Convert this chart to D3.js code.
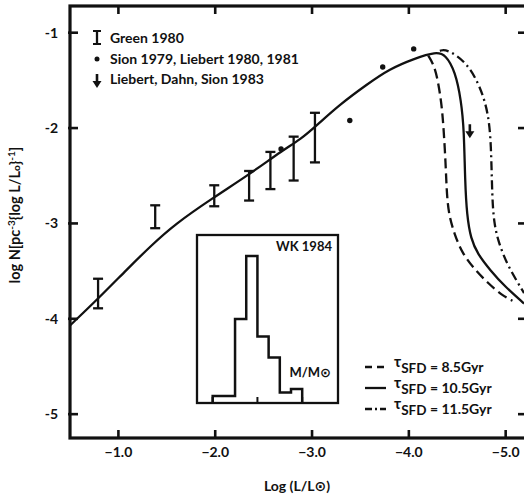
<!DOCTYPE html>
<html lang="en">
<head>
<meta charset="utf-8">
<script src="https://cdn.jsdelivr.net/npm/d3@7"></script>
<style>
  body { margin: 0; background: #fff; }
  text { font-family: Lato, "DejaVu Sans", sans-serif; font-weight: 700; fill: #111; }
</style>
</head>
<body>
<svg id="chart" width="524" height="495"></svg>
<script>
// ---- data ----
// Green 1980 (error bars)
const greenX  = [-0.79, -1.38, -1.99, -2.35, -2.57, -2.81, -3.03];
const greenLo = [-3.89, -3.05, -2.82, -2.76, -2.64, -2.55, -2.36];
const greenHi = [-3.58, -2.81, -2.60, -2.45, -2.25, -2.09, -1.84];
// Sion 1979, Liebert 1980, 1981
const sionX = [-2.68, -3.39, -3.73, -4.05];
const sionY = [-2.22, -1.92, -1.36, -1.17];
// Liebert, Dahn, Sion 1983 (upper limit)
const ldsX = [-4.63];
const ldsY = [-1.96];

// model luminosity functions
const solidX = [-0.50, -0.79, -1.09, -1.33, -1.58, -1.98, -2.36, -2.70, -2.88, -3.05, -3.29, -3.57, -3.80, -4.06, -4.28,
                -4.38, -4.48, -4.54, -4.57, -4.58, -4.60, -4.64, -4.71, -4.84, -4.99, -5.19];
const solidY = [-4.07, -3.79, -3.48, -3.24, -3.01, -2.73, -2.48, -2.23, -2.12, -1.97, -1.75, -1.54, -1.38, -1.27, -1.20,
                -1.23, -1.41, -1.71, -2.02, -2.55, -2.92, -3.16, -3.32, -3.49, -3.66, -3.84];
const dashX = [-4.20, -4.26, -4.30, -4.34, -4.36, -4.38, -4.39, -4.41, -4.47, -4.55, -4.67, -4.82, -4.97, -5.07];
const dashY = [-1.24, -1.34, -1.50, -1.76, -2.02, -2.37, -2.65, -2.90, -3.11, -3.31, -3.47, -3.63, -3.76, -3.81];
const dotdashX = [-4.32, -4.39, -4.60, -4.74, -4.82, -4.85, -4.86, -4.88, -4.92, -5.01, -5.13, -5.19];
const dotdashY = [-1.19, -1.17, -1.31, -1.57, -1.84, -2.16, -2.73, -2.99, -3.18, -3.42, -3.63, -3.73];

const models = [
  {label: "8.5Gyr",  dash: "10,5",    key: "7,5"},
  {label: "10.5Gyr", dash: null,      key: null},
  {label: "11.5Gyr", dash: "9,4,2,4", key: "7,3,2,3"}
];

// WK 1984 mass distribution (inset)
const massEdges  = [0.40, 0.45, 0.50, 0.55, 0.60, 0.65, 0.70, 0.75, 0.80];
const massCounts = [1, 1, 12, 21, 9.5, 6.5, 1.5, 2];
const massTicks  = [0.4, 0.6, 0.8];

const xTicks = [-1, -2, -3, -4, -5];
const yTicks = [-1, -2, -3, -4, -5];

// ---- layout ----
const svg = d3.select("#chart");
const L = 70, R = 526, T = 6, B = 438;

const x = d3.scaleLinear().domain([-0.5, -5.21]).range([L, R]);
const y = d3.scaleLinear().domain([-0.72, -5.25]).range([T, B]);

svg.append("clipPath").attr("id", "plotclip")
   .append("rect").attr("x", L).attr("y", T).attr("width", R - L).attr("height", B - T);

// frame
svg.append("rect").attr("x", L).attr("y", T).attr("width", R - L).attr("height", B - T)
   .attr("fill", "none").attr("stroke", "#111").attr("stroke-width", 3.2);

// ticks (all inward)
const tk = 8;
xTicks.forEach(v => {
  svg.append("line").attr("x1", x(v)).attr("x2", x(v)).attr("y1", B).attr("y2", B - tk)
     .attr("stroke", "#111").attr("stroke-width", 2.6);
  svg.append("line").attr("x1", x(v)).attr("x2", x(v)).attr("y1", T).attr("y2", T + tk)
     .attr("stroke", "#111").attr("stroke-width", 2.6);
  svg.append("text").attr("x", x(v)).attr("y", B + 19).attr("text-anchor", "middle")
     .attr("font-size", 14).text(d3.format(".1f")(v));
});
yTicks.forEach(v => {
  svg.append("line").attr("x1", L - 2).attr("x2", L + tk).attr("y1", y(v)).attr("y2", y(v))
     .attr("stroke", "#111").attr("stroke-width", 2.6);
  svg.append("line").attr("x1", R).attr("x2", R - tk).attr("y1", y(v)).attr("y2", y(v))
     .attr("stroke", "#111").attr("stroke-width", 2.6);
  svg.append("text").attr("x", L - 12).attr("y", y(v) + 5).attr("text-anchor", "end")
     .attr("font-size", 14).text(v);
});

// axis titles
svg.append("text").attr("x", 297).attr("y", 491).attr("text-anchor", "middle")
   .attr("font-size", 14).text("Log (L/L\u2299)");

const yt = svg.append("text").attr("transform", "translate(20,215) rotate(-90)")
   .attr("text-anchor", "middle").attr("font-size", 14.5);
yt.append("tspan").text("log N[pc");
yt.append("tspan").attr("dy", -5).attr("font-size", 10).text("-3");
yt.append("tspan").attr("dy", 5).text("{log L/L");
yt.append("tspan").attr("font-size", 10).text("o");
yt.append("tspan").text("}");
yt.append("tspan").attr("dy", -5).attr("font-size", 10).text("-1");
yt.append("tspan").attr("dy", 5).text("]");

// ---- curves ----
const line = d3.line().x(d => x(d[0])).y(d => y(d[1])).curve(d3.curveBasis);
const plot = svg.append("g").attr("clip-path", "url(#plotclip)");
const curveData = [d3.zip(dashX, dashY), d3.zip(solidX, solidY), d3.zip(dotdashX, dotdashY)];
curveData.forEach((pts, i) => {
  plot.append("path").attr("d", line(pts)).attr("fill", "none")
      .attr("stroke", "#111").attr("stroke-width", 2.3)
      .attr("stroke-dasharray", models[i].dash);
});

// error bars
const cap = 5;
greenX.forEach((v, i) => {
  const g = plot.append("g").attr("stroke", "#111").attr("stroke-width", 2.3);
  g.append("line").attr("x1", x(v)).attr("x2", x(v)).attr("y1", y(greenLo[i])).attr("y2", y(greenHi[i]));
  g.append("line").attr("x1", x(v) - cap).attr("x2", x(v) + cap).attr("y1", y(greenLo[i])).attr("y2", y(greenLo[i]));
  g.append("line").attr("x1", x(v) - cap).attr("x2", x(v) + cap).attr("y1", y(greenHi[i])).attr("y2", y(greenHi[i]));
});

// points
sionX.forEach((v, i) => {
  plot.append("circle").attr("cx", x(v)).attr("cy", y(sionY[i])).attr("r", 2.7).attr("fill", "#111");
});

function arrowDown(sel, cx, cy) {
  sel.append("line").attr("x1", cx).attr("x2", cx).attr("y1", cy).attr("y2", cy + 9)
     .attr("stroke", "#111").attr("stroke-width", 2.6);
  sel.append("path").attr("d", `M${cx - 4.5},${cy + 7} L${cx + 4.5},${cy + 7} L${cx},${cy + 14} Z`)
     .attr("fill", "#111");
}
ldsX.forEach((v, i) => arrowDown(plot, x(v), y(ldsY[i])));

// ---- top-left legend ----
const lx = 97;
const lg = svg.append("g");
lg.append("line").attr("x1", lx).attr("x2", lx).attr("y1", 31).attr("y2", 44).attr("stroke", "#111").attr("stroke-width", 2.3);
lg.append("line").attr("x1", lx - 4).attr("x2", lx + 4).attr("y1", 31).attr("y2", 31).attr("stroke", "#111").attr("stroke-width", 2);
lg.append("line").attr("x1", lx - 4).attr("x2", lx + 4).attr("y1", 44).attr("y2", 44).attr("stroke", "#111").attr("stroke-width", 2);
lg.append("text").attr("x", 110).attr("y", 43).attr("font-size", 14).text("Green 1980");
lg.append("circle").attr("cx", lx).attr("cy", 59).attr("r", 2.5).attr("fill", "#111");
lg.append("text").attr("x", 110).attr("y", 64).attr("font-size", 14).text("Sion 1979, Liebert 1980, 1981");
arrowDown(lg, lx, 74);
lg.append("text").attr("x", 110).attr("y", 84).attr("font-size", 14).text("Liebert, Dahn, Sion 1983");

// ---- bottom-right legend ----
const rows = [367, 388, 409];
models.forEach((m, i) => {
  svg.append("line").attr("x1", 365).attr("x2", 386).attr("y1", rows[i]).attr("y2", rows[i])
     .attr("stroke", "#111").attr("stroke-width", 2.3).attr("stroke-dasharray", m.key);
  const t = svg.append("text").attr("x", 394).attr("y", rows[i] + 6).attr("font-size", 14);
  t.append("tspan").attr("dy", -6).attr("font-size", 15).text("\u03c4");
  t.append("tspan").attr("dy", 6).attr("font-size", 13.5).text("SFD");
  t.append("tspan").attr("dy", -1).text(" = " + m.label);
});

// ---- inset: WK 1984 mass histogram ----
const ix = d3.scaleLinear().domain([0.33, 0.96]).range([197, 338]);
const iy = d3.scaleLinear().domain([0, 24]).range([403, 235]);
const inset = svg.append("g");
inset.append("rect").attr("x", ix.range()[0]).attr("y", iy.range()[1])
     .attr("width", ix.range()[1] - ix.range()[0]).attr("height", iy.range()[0] - iy.range()[1])
     .attr("fill", "#fff").attr("stroke", "#111").attr("stroke-width", 2.3);
massTicks.forEach(m => {
  inset.append("line").attr("x1", ix(m)).attr("x2", ix(m)).attr("y1", iy(0)).attr("y2", iy(0) - 6)
       .attr("stroke", "#111").attr("stroke-width", 2);
});
const steps = [[massEdges[0], 0]];
massCounts.forEach((c, i) => { steps.push([massEdges[i], c]); steps.push([massEdges[i + 1], c]); });
steps.push([massEdges[massEdges.length - 1], 0]);
inset.append("path").attr("d", d3.line().x(d => ix(d[0])).y(d => iy(d[1]))(steps))
     .attr("fill", "none").attr("stroke", "#111").attr("stroke-width", 2.5);
inset.append("text").attr("x", 332).attr("y", 251).attr("text-anchor", "end").attr("font-size", 13).text("WK 1984");
inset.append("text").attr("x", 331).attr("y", 377).attr("text-anchor", "end").attr("font-size", 13).text("M/M\u2299");
</script>
</body>
</html>
